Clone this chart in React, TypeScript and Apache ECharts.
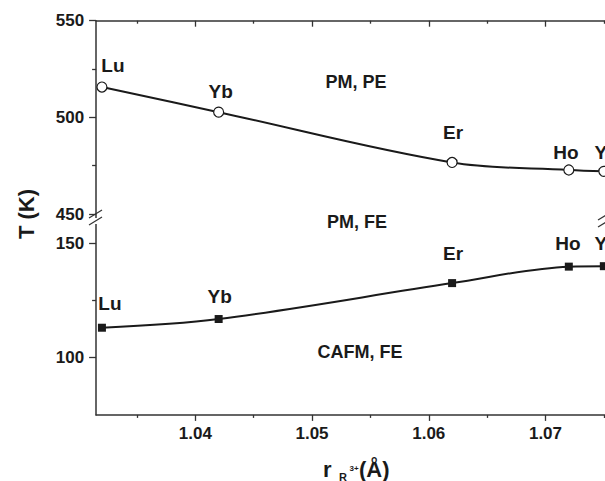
import React, { useEffect, useRef } from "react";
import * as echarts from "echarts";

// ---- data ----
const elements = ["Lu", "Yb", "Er", "Ho", "Y"];
const radius = [1.032, 1.042, 1.062, 1.072, 1.075];
const tUpper = [515.7, 502.7, 476.7, 472.8, 472.1];
const tLower = [113.1, 116.9, 132.6, 139.8, 140.0];
const xMajorTicks = [1.04, 1.05, 1.06, 1.07];
const xMinorTicks = [1.035, 1.045, 1.055, 1.065, 1.075];
const upperYTicks = [450, 500, 550];
const upperYMinor = [475, 525];
const lowerYTicks = [100, 150];
const lowerYMinor = [125];
const regionNames = ["PM, PE", "PM, FE", "CAFM, FE"];

// ---- layout / style ----
const X_MIN = 1.0315;
const X_MAX = 1.0751;
const UP_MIN = 447;
const UP_MAX = 550;
const LO_MIN = 75;
const LO_MAX = 159;
const upperLabelOffsets = [[11, -22], [2, -21], [1, -30], [-3, -18], [-3, -19]];
const lowerLabelOffsets = [[8, -24], [1, -23], [1, -30], [-1, -23], [-3, -23]];
const regionPos = [[356, 81.5], [357, 222], [360, 351.5]];
const FONT = "'Liberation Sans', Arial, sans-serif";
const INK = "#1a1a1a";
const AX = "#333";

export default function App() {
  const ref = useRef<HTMLDivElement>(null);
  useEffect(() => {
    document.body.style.margin = "0";
    if (!ref.current) return;
    const chart = echarts.init(ref.current, null, { renderer: "svg" });
    const axLine = { show: true, lineStyle: { color: AX, width: 1.5 } };
    const tickStyle = { color: AX, width: 1.3 };
    const labelStyle = {
      fontSize: 17,
      fontWeight: "bold" as const,
      color: INK,
      fontFamily: FONT,
    };
    const hidden = { show: false };

    const xAxes: any[] = [
      {
        type: "value", gridIndex: 0, position: "top", min: X_MIN, max: X_MAX,
        axisLine: axLine,
        axisTick: { show: true, inside: true, length: 6, customValues: xMajorTicks, lineStyle: tickStyle },
        axisLabel: hidden, splitLine: hidden,
      },
      {
        type: "value", gridIndex: 0, position: "top", min: X_MIN, max: X_MAX,
        axisLine: hidden,
        axisTick: { show: true, inside: true, length: 3, customValues: xMinorTicks, lineStyle: tickStyle },
        axisLabel: hidden, splitLine: hidden,
      },
      {
        type: "value", gridIndex: 1, position: "bottom", min: X_MIN, max: X_MAX,
        axisLine: axLine,
        axisTick: { show: true, inside: false, length: 6, customValues: xMajorTicks, lineStyle: tickStyle },
        axisLabel: { ...labelStyle, margin: 10, customValues: xMajorTicks, formatter: (v: number) => v.toFixed(2) },
        splitLine: hidden,
      },
      {
        type: "value", gridIndex: 1, position: "bottom", min: X_MIN, max: X_MAX,
        axisLine: hidden,
        axisTick: { show: true, inside: false, length: 3, customValues: xMinorTicks, lineStyle: tickStyle },
        axisLabel: hidden, splitLine: hidden,
      },
    ];

    const yAxes: any[] = [
      {
        type: "value", gridIndex: 0, position: "left", min: UP_MIN, max: UP_MAX,
        axisLine: axLine,
        axisTick: { show: true, length: 7, customValues: upperYTicks, lineStyle: tickStyle },
        axisLabel: { ...labelStyle, margin: 12, customValues: upperYTicks },
        splitLine: hidden,
      },
      {
        type: "value", gridIndex: 0, position: "left", min: UP_MIN, max: UP_MAX,
        axisLine: hidden,
        axisTick: { show: true, length: 4, customValues: upperYMinor, lineStyle: tickStyle },
        axisLabel: hidden, splitLine: hidden,
      },
      {
        type: "value", gridIndex: 1, position: "left", min: LO_MIN, max: LO_MAX,
        axisLine: axLine,
        axisTick: { show: true, length: 7, customValues: lowerYTicks, lineStyle: tickStyle },
        axisLabel: { ...labelStyle, margin: 12, customValues: lowerYTicks },
        splitLine: hidden,
      },
      {
        type: "value", gridIndex: 1, position: "left", min: LO_MIN, max: LO_MAX,
        axisLine: hidden,
        axisTick: { show: true, length: 4, customValues: lowerYMinor, lineStyle: tickStyle },
        axisLabel: hidden, splitLine: hidden,
      },
    ];

    const pointLabel = {
      show: true,
      position: "inside",
      fontSize: 19,
      fontWeight: "bold",
      color: INK,
      fontFamily: FONT,
      formatter: (p: any) => elements[p.dataIndex],
    };

    const upperData = radius.map((r, i) => ({
      value: [r, tUpper[i]],
      label: { offset: upperLabelOffsets[i] },
    }));
    const lowerData = radius.map((r, i) => ({
      value: [r, tLower[i]],
      label: { offset: lowerLabelOffsets[i] },
    }));

    const textStyle = (size: number) => ({
      fontSize: size,
      fontWeight: "bold",
      fill: INK,
      fontFamily: FONT,
    });

    const graphics: any[] = [
      ...regionNames.map((t, i) => ({
        type: "text",
        x: regionPos[i][0],
        y: regionPos[i][1],
        style: { text: t, ...textStyle(18), align: "center", verticalAlign: "middle" },
        z: 10,
      })),
      {
        type: "text", x: 26, y: 214, rotation: Math.PI / 2,
        style: { text: "T (K)", ...textStyle(22), align: "center", verticalAlign: "middle" },
      },
      { type: "text", x: 323, y: 469.5, style: { text: "r", ...textStyle(22), align: "left", verticalAlign: "middle" } },
      { type: "text", x: 339, y: 476.5, style: { text: "R", ...textStyle(11), align: "left", verticalAlign: "middle" } },
      { type: "text", x: 349.5, y: 468, style: { text: "3+", ...textStyle(8), align: "left", verticalAlign: "middle" } },
      { type: "text", x: 359, y: 469.5, style: { text: "(Å)", ...textStyle(22), align: "left", verticalAlign: "middle" } },
      { type: "rect", shape: { x: 93, y: 218, width: 6, height: 6 }, style: { fill: "#fff" }, z: 20 },
      { type: "line", shape: { x1: 89, y1: 218, x2: 102, y2: 210 }, style: { stroke: AX, lineWidth: 1.3 }, z: 21 },
      { type: "line", shape: { x1: 89, y1: 225, x2: 102, y2: 217 }, style: { stroke: AX, lineWidth: 1.3 }, z: 21 },
      { type: "line", shape: { x1: 598, y1: 220, x2: 611, y2: 212 }, style: { stroke: AX, lineWidth: 1.3 }, z: 21 },
      { type: "line", shape: { x1: 598, y1: 227, x2: 611, y2: 219 }, style: { stroke: AX, lineWidth: 1.3 }, z: 21 },
    ];

    chart.setOption({
      animation: false,
      backgroundColor: "#fff",
      grid: [
        { left: 96.1, top: 20.7, right: 0, height: 199.2, outerBoundsMode: "none", containLabel: false },
        { left: 96.1, top: 222.7, right: 0, height: 192.2, outerBoundsMode: "none", containLabel: false },
      ],
      xAxis: xAxes,
      yAxis: yAxes,
      series: [
        {
          type: "line",
          xAxisIndex: 0, yAxisIndex: 0,
          data: upperData,
          smooth: 0.35,
          symbol: "circle",
          symbolSize: 10,
          itemStyle: { color: "#fff", borderColor: INK, borderWidth: 1.2 },
          lineStyle: { color: INK, width: 2 },
          label: pointLabel,
          z: 5,
        },
        {
          type: "line",
          xAxisIndex: 2, yAxisIndex: 2,
          data: lowerData,
          smooth: 0.35,
          symbol: "rect",
          symbolSize: 8,
          itemStyle: { color: INK, borderColor: INK, borderWidth: 0 },
          lineStyle: { color: INK, width: 2 },
          label: pointLabel,
          z: 5,
        },
      ],
      graphic: graphics,
    });
    return () => chart.dispose();
  }, []);
  return <div ref={ref} style={{ width: 605, height: 481 }} />;
}
